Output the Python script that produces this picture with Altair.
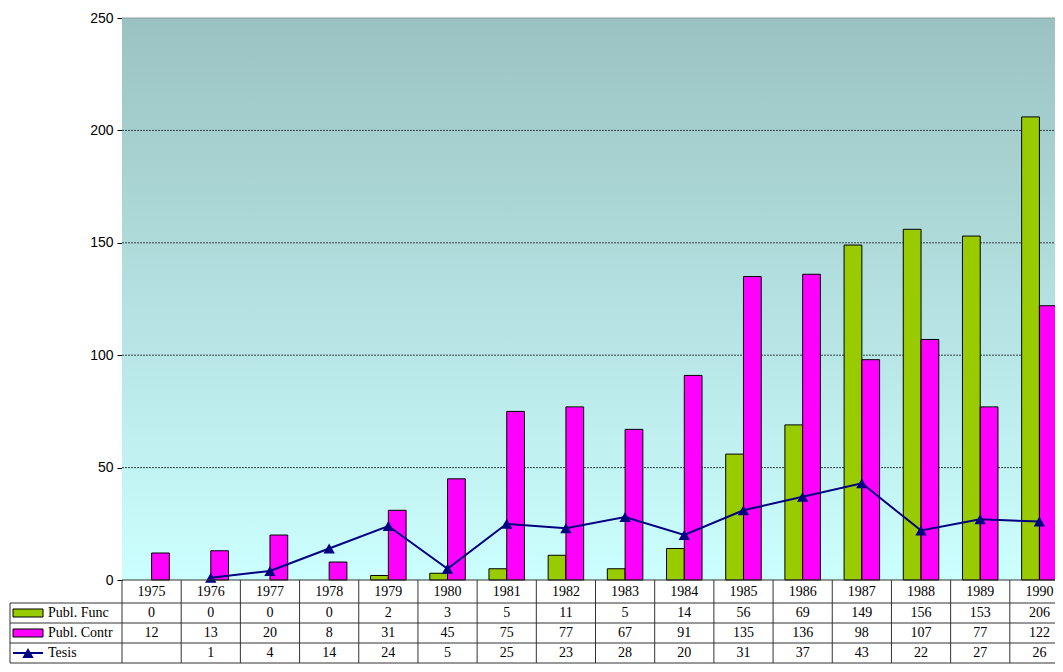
import altair as alt
import pandas as pd

years = [str(y) for y in range(1975, 1991)]
publ_func = [0, 0, 0, 0, 2, 3, 5, 11, 5, 14, 56, 69, 149, 156, 153, 206]
publ_contr = [12, 13, 20, 8, 31, 45, 75, 77, 67, 91, 135, 136, 98, 107, 77, 122]
tesis = [None, 1, 4, 14, 24, 5, 25, 23, 28, 20, 31, 37, 43, 22, 27, 26]
series_names = ["Publ. Func", "Publ. Contr", "Tesis"]
series_colors = ["#99cc00", "#ff00ff", "#000080"]
y_ticks = [0, 50, 100, 150, 200, 250]

FULL_W = 947          # full width of the 16 columns (extends past the window)
W = 933               # visible plot width
H = 562
row_lines = [H + 23, H + 43, H + 63, H + 83]
row_centers = [H + 11.5, H + 33, H + 53, H + 73]
SERIF = "Liberation Serif"
SANS = "Liberation Sans"

bar_df = pd.DataFrame(
    [{"year": y, "serie": series_names[0], "value": v} for y, v in zip(years, publ_func)]
    + [{"year": y, "serie": series_names[1], "value": v} for y, v in zip(years, publ_contr)]
)
tesis_df = pd.DataFrame([{"year": y, "value": v} for y, v in zip(years, tesis) if v is not None])
grid_df = pd.DataFrame({"v": y_ticks[1:-1]})

xscale = alt.Scale(domain=years, paddingInner=0, paddingOuter=0, range=[0, FULL_W])
yscale = alt.Scale(domain=[0, 250])
X = alt.X("year:O", scale=xscale, axis=None)
X_edge = alt.X("year:O", scale=xscale, axis=None, bandPosition=0)

one = pd.DataFrame({"a": [0]})

bg = alt.Chart(one).mark_rect(
    fill=alt.LinearGradient(gradient="linear", x1=0, y1=1, x2=0, y2=0,
                            stops=[alt.GradientStop(color="#ccffff", offset=0),
                                   alt.GradientStop(color="#9bc2c2", offset=1)])
).encode(x=alt.value(0), x2=alt.value(FULL_W), y=alt.value(0), y2=alt.value(H))

grid = alt.Chart(grid_df).mark_rule(color="#334040", strokeWidth=1, strokeDash=[2, 1]).encode(
    x=alt.value(0), x2=alt.value(FULL_W), y=alt.Y("v:Q", scale=yscale))

bars = alt.Chart(bar_df).mark_bar(stroke="black", strokeWidth=1).encode(
    x=X,
    xOffset=alt.XOffset("serie:N", sort=series_names[:2],
                        scale=alt.Scale(paddingInner=0, paddingOuter=0.667)),
    y=alt.Y("value:Q", scale=yscale, axis=alt.Axis(
        values=y_ticks, tickSize=5, tickColor="#000000", domainColor="#333333",
        labelFont=SANS, labelFontSize=14, labelColor="#000000", labelPadding=4,
        grid=False, title=None)),
    color=alt.Color("serie:N", scale=alt.Scale(domain=series_names[:2], range=series_colors[:2]), legend=None),
).transform_filter("datum.value > 0")

line = alt.Chart(tesis_df).mark_line(color=series_colors[2], strokeWidth=2).encode(
    x=X, y=alt.Y("value:Q", scale=yscale))
pts = alt.Chart(tesis_df).mark_point(shape="triangle-up", filled=True, size=130,
                                     color=series_colors[2], opacity=1).encode(
    x=X, y=alt.Y("value:Q", scale=yscale))

top_line = alt.Chart(one).mark_rule(color="#8f9c9c", strokeWidth=1).encode(
    x=alt.value(0), x2=alt.value(FULL_W), y=alt.value(0))
base_line = alt.Chart(one).mark_rule(color="#333333", strokeWidth=1).encode(
    x=alt.value(0), x2=alt.value(FULL_W), y=alt.value(H))

layers = [bg, grid, bars, line, pts, top_line, base_line]

# table: header years
year_df = pd.DataFrame({"year": years})
layers.append(alt.Chart(year_df).mark_text(font=SERIF, fontSize=14, color="#000000", baseline="middle").encode(
    x=X, y=alt.value(row_centers[0]), text="year:N"))

# value rows
for i, vals in enumerate([publ_func, publ_contr, tesis]):
    df = pd.DataFrame([{"year": y, "txt": str(v)} for y, v in zip(years, vals) if v is not None])
    layers.append(alt.Chart(df).mark_text(font=SERIF, fontSize=14, color="#000000", baseline="middle").encode(
        x=X, y=alt.value(row_centers[i + 1]), text="txt:N"))

# horizontal table lines
for b in row_lines:
    layers.append(alt.Chart(one).mark_rule(color="#333333", strokeWidth=1).encode(
        x=alt.value(-112), x2=alt.value(FULL_W), y=alt.value(b)))

# vertical table lines
layers.append(alt.Chart(year_df).mark_rule(color="#333333", strokeWidth=1).encode(
    x=X_edge, y=alt.value(H), y2=alt.value(row_lines[-1])))
layers.append(alt.Chart(one).mark_rule(color="#333333", strokeWidth=1).encode(
    x=alt.value(-112), y=alt.value(row_lines[0]), y2=alt.value(row_lines[-1])))

# legend column
for i in range(2):
    layers.append(alt.Chart(pd.DataFrame({"n": [series_names[i]]})).mark_rect(
        fill=series_colors[i], stroke="#000000", strokeWidth=1).encode(
        x=alt.value(-109), x2=alt.value(-79),
        y=alt.value(row_centers[i + 1] - 4), y2=alt.value(row_centers[i + 1] + 4)))
layers.append(alt.Chart(pd.DataFrame({"n": [series_names[2]]})).mark_rule(
    color=series_colors[2], strokeWidth=2).encode(
    x=alt.value(-109), x2=alt.value(-79), y=alt.value(row_centers[3])))
layers.append(alt.Chart(pd.DataFrame({"n": [series_names[2]]})).mark_point(
    shape="triangle-up", filled=True, size=130, color=series_colors[2], opacity=1).encode(
    x=alt.value(-94), y=alt.value(row_centers[3])))
for i in range(3):
    layers.append(alt.Chart(pd.DataFrame({"n": [series_names[i]]})).mark_text(
        font=SERIF, fontSize=14, color="#000000", align="left", baseline="middle").encode(
        x=alt.value(-74), y=alt.value(row_centers[i + 1]), text="n:N"))

chart = alt.layer(*layers).properties(
    width=W, height=H, autosize="none",
    padding={"left": 114, "top": 10, "right": 0, "bottom": 84},
).configure_view(strokeWidth=0)

chart.save("out.html", embed_options={"renderer": "svg", "actions": False})
